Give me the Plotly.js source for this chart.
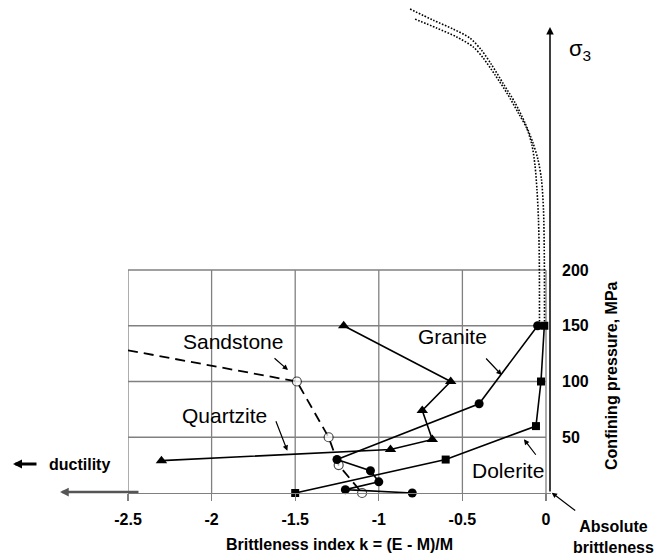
<!DOCTYPE html>
<html>
<head>
<meta charset="utf-8">
<script src="https://cdn.plot.ly/plotly-3.0.1.min.js"></script>
<style>html,body{margin:0;padding:0;background:#fff;}#chart{width:656px;height:558px;}</style>
</head>
<body>
<div id="chart"></div>
<script>
// ---- data ----
const xTickVals = [-2.5, -2, -1.5, -1, -0.5, 0];
const xTickText = ['-2.5', '-2', '-1.5', '-1', '-0.5', '0'];
const yTickVals = [50, 100, 150, 200];
const yTickText = ['50', '100', '150', '200'];

const graniteK = [-0.05, -0.40, -1.25, -1.05, -1.00, -1.20, -0.80];
const graniteP = [150, 80, 30, 20, 10, 3, 0];

const quartziteK = [-1.21, -0.57, -0.74, -0.68, -0.93, -2.30];
const quartziteP = [150, 100, 74, 48, 39, 29];

const doleriteK = [-1.50, -0.60, -0.06, -0.03, -0.01];
const doleriteP = [0, 30, 60, 100, 150];

const sandstoneK = [-2.50, -1.49, -1.30, -1.24, -1.10];
const sandstoneP = [128, 100, 50, 25, 0];
const sandstoneMarkerSize = [0, 9, 9, 9, 9];

const envOuterK = [-0.813, -0.674, -0.554, -0.455, -0.385, -0.325, -0.255, -0.185, -0.126, -0.078, -0.048, -0.027, -0.015, -0.010, -0.009];
const envOuterP = [434, 424, 416, 408, 397, 384, 367, 350, 332, 314, 299, 281, 254, 209, 150];
const envInnerK = [-0.783, -0.654, -0.534, -0.435, -0.375, -0.305, -0.235, -0.166, -0.115, -0.084, -0.066, -0.054, -0.045, -0.040, -0.039];
const envInnerP = [425, 417, 409, 400, 390, 375, 359, 341, 327, 312, 294, 272, 245, 209, 150];

const FONT = 'Liberation Sans, Arial, Helvetica, sans-serif';
const BLACK = '#000000';
const GRID = '#808080';

const traces = [
  {x: envOuterK, y: envOuterP, mode: 'lines', line: {color: BLACK, width: 1.6, dash: '1.6px,1.6px', shape: 'spline', smoothing: 0.8}, hoverinfo: 'skip'},
  {x: envInnerK, y: envInnerP, mode: 'lines', line: {color: BLACK, width: 1.6, dash: '1.6px,1.6px', shape: 'spline', smoothing: 0.8}, hoverinfo: 'skip'},
  {name: 'Sandstone', x: sandstoneK, y: sandstoneP, mode: 'lines+markers', cliponaxis: false,
   line: {color: BLACK, width: 1.8, dash: '10px,6px'},
   marker: {symbol: 'circle', size: sandstoneMarkerSize, color: '#ffffff', line: {color: BLACK, width: 1.2}}},
  {name: 'Dolerite', x: doleriteK, y: doleriteP, mode: 'lines+markers', cliponaxis: false,
   line: {color: BLACK, width: 1.6},
   marker: {symbol: 'square', size: 8, color: BLACK}},
  {name: 'Quartzite', x: quartziteK, y: quartziteP, mode: 'lines+markers', cliponaxis: false,
   line: {color: BLACK, width: 1.6},
   marker: {symbol: 'triangle-up', size: 10, color: BLACK}},
  {name: 'Granite', x: graniteK, y: graniteP, mode: 'lines+markers', cliponaxis: false,
   line: {color: BLACK, width: 1.6},
   marker: {symbol: 'circle', size: 9, color: BLACK}}
];

const shapes = [];
xTickVals.forEach(v => shapes.push({type: 'line', xref: 'x', yref: 'y', x0: v, x1: v, y0: 0, y1: 200, layer: 'below', line: {color: GRID, width: 1.3}}));
yTickVals.forEach(v => shapes.push({type: 'line', xref: 'x', yref: 'y', x0: -2.5, x1: 0, y0: v, y1: v, layer: 'below', line: {color: GRID, width: 1.3}}));

function label(text, x, y, size, bold, ref, extra) {
  const r = ref || 'data';
  return Object.assign({text: bold ? '<b>' + text + '</b>' : text, x: x, y: y,
    xref: r === 'paper' ? 'paper' : 'x', yref: r === 'paper' ? 'paper' : 'y', showarrow: false,
    xanchor: 'center', yanchor: 'middle',
    font: {family: FONT, size: size, color: BLACK}}, extra || {});
}
function arrow(x, y, ax, ay, width, head, size, ref, color) {
  const r = ref || 'data';
  return {text: '', x: x, y: y, xref: r === 'paper' ? 'paper' : 'x', yref: r === 'paper' ? 'paper' : 'y',
    ax: ax, ay: ay, showarrow: true,
    arrowhead: head, arrowsize: size, arrowwidth: width, arrowcolor: color || BLACK, standoff: 0, startstandoff: 0};
}

const annotations = [
  label('Sandstone', -1.872, 136.3, 21, false),
  arrow(-1.543, 110.3, -15, -13, 1.2, 2, 0.9),
  label('Quartzite', -1.920, 69.1, 21, false),
  arrow(-1.547, 37.9, -12, -31, 1.2, 2, 0.9),
  label('Granite', -0.558, 140.8, 21, false),
  arrow(-0.265, 105.8, -17, -18, 1.2, 2, 0.9),
  label('Dolerite', -0.227, 20.6, 21, false),
  arrow(-0.132, 48.2, 13, 17, 1.2, 2, 0.9),
  label('Absolute<br>brittleness', 1.1466, -0.0892, 16, true, 'paper'),
  arrow(1.0017, 0.0006, 25, 19, 1.2, 2, 0.9, 'paper'),
  label('ductility', -0.1158, 0.0568, 16, true, 'paper'),
  arrow(-0.2719, 0.0588, 25, 0, 3, 2, 0.6, 'paper'),
  arrow(-0.1608, 0.002, 80, 0, 2.5, 2, 0.7, 'paper', '#555555'),
  {text: '', x: 0.0239, y: 417.9, xref: 'x', yref: 'y', axref: 'x', ayref: 'y', ax: 0.0239, ay: 0,
   showarrow: true, arrowhead: 2, arrowsize: 1, arrowwidth: 1.5, arrowcolor: BLACK, standoff: 0, startstandoff: 0},
  label('σ<sub>3</sub>', 1.0686, 0.8986, 22, false, 'paper'),
  label('Confining pressure, MPa', 1.1442, 0.2394, 16, true, 'paper', {textangle: -90})
];

const layout = {
  width: 656, height: 558,
  margin: {l: 128, r: 105, t: 0, b: 65, pad: 0},
  paper_bgcolor: '#ffffff', plot_bgcolor: '#ffffff',
  showlegend: false,
  font: {family: FONT, color: BLACK},
  xaxis: {
    range: [-2.5, 0.0299], tickvals: xTickVals, ticktext: xTickText,
    ticks: 'outside', ticklen: 7, tickwidth: 1.3, tickcolor: GRID,
    showgrid: false, zeroline: false, showline: true, linecolor: GRID, linewidth: 1.3,
    tickfont: {family: FONT, size: 16, weight: 'bold', color: BLACK},
    ticklabelstandoff: 4,
    title: {text: '<b>Brittleness index k = (E - M)/M</b>', font: {family: FONT, size: 16, color: BLACK}, standoff: 12}
  },
  yaxis: {
    range: [0, 442.15], side: 'right', tickvals: yTickVals, ticktext: yTickText,
    ticks: '', showgrid: false, zeroline: false, showline: false,
    tickfont: {family: FONT, size: 16, weight: 'bold', color: BLACK},
    ticklabelstandoff: 10
  },
  shapes: shapes,
  annotations: annotations
};

Plotly.newPlot('chart', traces, layout, {staticPlot: true, displayModeBar: false});
</script>
</body>
</html>
